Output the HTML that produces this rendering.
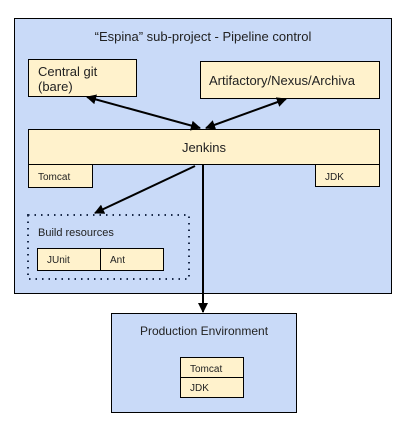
<!DOCTYPE html>
<html><head><style>
body{margin:0;background:#fff;}
svg text{font-family:"Liberation Sans",Arial,sans-serif;fill:#222;}
</style></head><body>
<svg width="407" height="423" xmlns="http://www.w3.org/2000/svg">
<defs><marker id="a" viewBox="0 0 10 10" refX="9" refY="5" markerWidth="5" markerHeight="5" orient="auto-start-reverse"><path d="M0,0L10,5L0,10z" fill="#000"/></marker></defs>
<g stroke="#000" stroke-width="1">
<rect x="14.5" y="18.5" width="377" height="275" fill="#c9daf8"/>
<rect x="28.5" y="59.5" width="108" height="37" fill="#fff2cc"/>
<rect x="200.5" y="61.5" width="179" height="37" fill="#fff2cc"/>
<rect x="28.5" y="129.5" width="351" height="35" fill="#fff2cc"/>
<rect x="28.5" y="164.5" width="64" height="23" fill="#fff2cc"/>
<rect x="315.5" y="164.5" width="64" height="22" fill="#fff2cc"/>
<rect x="37.5" y="248.5" width="63" height="22" fill="#fff2cc"/>
<rect x="100.5" y="248.5" width="63" height="22" fill="#fff2cc"/>
<rect x="111.5" y="313.5" width="185" height="99" fill="#c9daf8"/>
<rect x="180.5" y="357.5" width="63" height="20" fill="#fff2cc"/>
<rect x="180.5" y="377.5" width="63" height="20" fill="#fff2cc"/>
</g>
<rect x="28" y="215" width="161" height="64" fill="none" stroke="#1a2a4a" stroke-width="2" stroke-dasharray="1.5,5"/>
<g stroke="#000" stroke-width="2" fill="none">
<line x1="200" y1="128" x2="87" y2="97" marker-start="url(#a)" marker-end="url(#a)"/>
<line x1="206" y1="128" x2="286" y2="99" marker-start="url(#a)" marker-end="url(#a)"/>
<line x1="195" y1="166" x2="95" y2="213" marker-end="url(#a)"/>
<line x1="203" y1="165" x2="203" y2="312" marker-end="url(#a)"/>
</g>
<text x="203" y="41" font-size="13" text-anchor="middle">“Espina” sub-project - Pipeline control</text>
<text x="38" y="76" font-size="13">Central git</text>
<text x="38" y="91" font-size="13">(bare)</text>
<text x="209" y="85" font-size="13">Artifactory/Nexus/Archiva</text>
<text x="204" y="152" font-size="13" text-anchor="middle">Jenkins</text>
<text x="38" y="180" font-size="10">Tomcat</text>
<text x="325" y="180" font-size="10">JDK</text>
<text x="38" y="236" font-size="11">Build resources</text>
<text x="47" y="263" font-size="10">JUnit</text>
<text x="110" y="263" font-size="10">Ant</text>
<text x="204" y="335" font-size="12" text-anchor="middle">Production Environment</text>
<text x="190" y="372" font-size="10">Tomcat</text>
<text x="190" y="391" font-size="10">JDK</text>
</svg>
</body></html>
